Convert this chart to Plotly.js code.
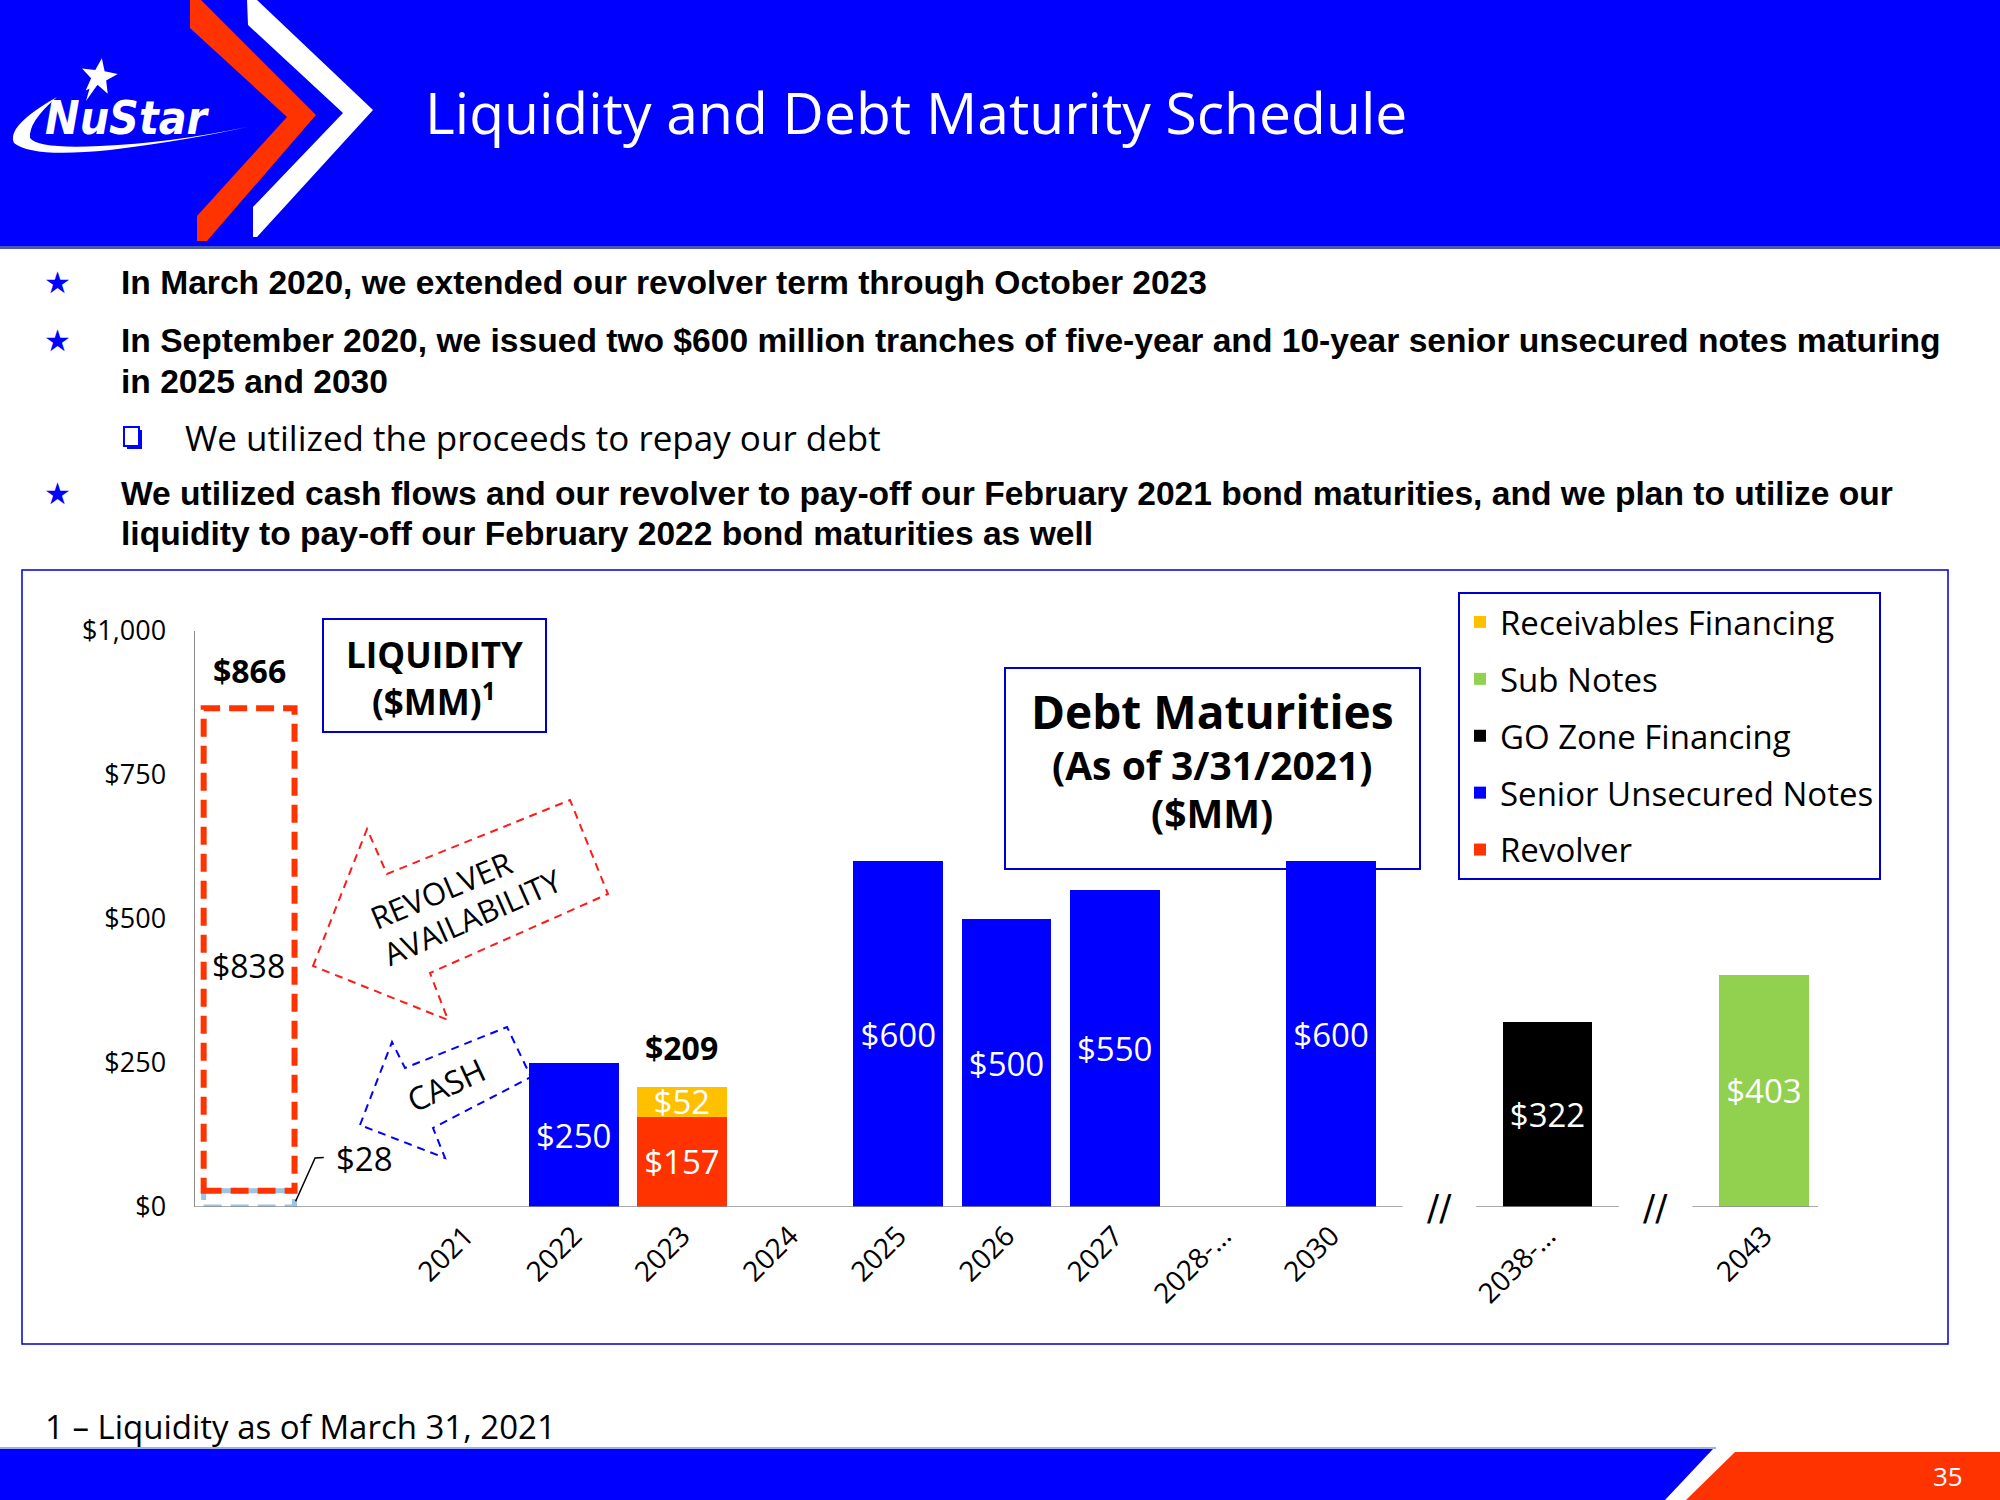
<!DOCTYPE html>
<html>
<head>
<meta charset="utf-8">
<script src="https://cdn.plot.ly/plotly-3.0.1.min.js"></script>
<style>
  html, body { margin: 0; padding: 0; background: #ffffff; }
  #chart { width: 2000px; height: 1500px; }
</style>
</head>
<body>
<div id="chart"></div>
<script>
// ---------------- DATA ----------------
const categories = ['', '', '2021', '2022', '2023', '2024', '2025', '2026', '2027', '2028-…', '2030', '', '2038-…', '', '2043'];
const revolver    = [null, null, null, null, 157, null, null, null, null, null, null, null, null, null, null];
const seniorNotes = [null, null, null, 250, null, null, 600, 500, 550, null, 600, null, null, null, null];
const goZone      = [null, null, null, null, null, null, null, null, null, null, null, null, 322, null, null];
const subNotes    = [null, null, null, null, null, null, null, null, null, null, null, null, null, null, 403];
const receivables = [null, null, null, null, 52, null, null, null, null, null, null, null, null, null, null];
const liquidityCash = 28;
const liquidityRevolver = 838;
const liquidityIndex = 0;
const breakIndexes = [11, 13];
const yTicks = [0, 250, 500, 750, 1000];

const seriesNames = ['Revolver', 'Senior Unsecured Notes', 'GO Zone Financing', 'Sub Notes', 'Receivables Financing'];
const seriesValues = [revolver, seniorNotes, goZone, subNotes, receivables];
const seriesColors = ['#FF3300', '#0000FF', '#000000', '#92D050', '#FFC000'];
const legendRanks = [5, 4, 3, 2, 1];

// ---------------- LAYOUT HELPERS ----------------
const L = 195, R = 1818, T = 631, B = 1207;
const px = x => (x - L) / (R - L);
const py = y => (B - y) / (B - T);
const conv = s => s.replace(/(-?\d+\.?\d*),(-?\d+\.?\d*)/g, (m, a, b) => px(+a).toFixed(5) + ',' + py(+b).toFixed(5));
const poly = pts => 'M' + pts.map(p => px(p[0]).toFixed(5) + ',' + py(p[1]).toFixed(5)).join('L') + 'Z';

const F = '"Open Sans", "DejaVu Sans", sans-serif';
const FB = '"Liberation Sans", Arial, sans-serif';
const BLUE = '#0000FF';
const FRAME = '#0000CC';

const xIdx = categories.map((c, i) => i);

// ---------------- TRACES ----------------
const traces = seriesNames.map((name, k) => {
  const xs = [], ys = [], ts = [];
  seriesValues[k].forEach((v, i) => { if (v != null) { xs.push(xIdx[i]); ys.push(v); ts.push('$' + v); } });
  return {
    type: 'bar',
    name: name,
    legendgroup: name,
    legendrank: legendRanks[k],
    x: xs,
    y: ys,
    text: ts,
    textposition: 'inside',
    insidetextanchor: 'middle',
    textangle: 0,
    textfont: { color: '#ffffff', size: 33, family: F },
    cliponaxis: false,
    marker: { color: seriesColors[k], line: { width: 0 } },
    hoverinfo: 'skip'
  };
});

// ---------------- SHAPES ----------------
const shapes = [];
const P = (o) => Object.assign({ xref: 'paper', yref: 'paper' }, o);

// header band
shapes.push(P({ type: 'rect', x0: px(0), x1: px(2000), y0: py(246), y1: py(0), fillcolor: '#0000FF', line: { width: 0 }, layer: 'below' }));
shapes.push(P({ type: 'line', x0: px(0), x1: px(2000), y0: py(247.5), y1: py(247.5), line: { color: '#4A5AAE', width: 3 }, layer: 'below' }));
// chevrons
shapes.push(P({ type: 'path', path: poly([[190,0],[201,0],[316,115],[207,241],[197,241],[197,216],[287,117],[190,28]]), fillcolor: '#FF3300', line: { width: 0 }, layer: 'below' }));
shapes.push(P({ type: 'path', path: poly([[247,0],[257,0],[373,110],[257,237],[253,237],[253,207],[343,113],[248,25]]), fillcolor: '#FFFFFF', line: { width: 0 }, layer: 'below' }));
// logo swoosh
shapes.push(P({ type: 'path', path: conv('M57,97 Q6,126 14,143 Q32,158 110,150 Q190,140 247,127 Q170,143 100,146 Q38,149 30,138 Q28,122 57,97 Z'), fillcolor: '#FFFFFF', line: { width: 0 }, layer: 'below' }));
// logo star
(function () {
  const cx = 99, cy = 77, ro = 19, ri = 8;
  const pts = [];
  for (let i = 0; i < 10; i++) {
    const a = -Math.PI / 2 + i * Math.PI / 5 + 0.15;
    const r = i % 2 === 0 ? ro : ri;
    pts.push([cx + r * Math.cos(a), cy + r * Math.sin(a)]);
  }
  shapes.push(P({ type: 'path', path: poly(pts), fillcolor: '#FFFFFF', line: { width: 0 }, layer: 'below' }));
  shapes.push(P({ type: 'path', path: poly([[92,80],[98,84],[86,101]]), fillcolor: '#FFFFFF', line: { width: 0 }, layer: 'below' }));
})();
// sub-bullet hollow square
shapes.push(P({ type: 'rect', x0: px(127), x1: px(142), y0: py(449), y1: py(430), fillcolor: BLUE, line: { width: 0 }, layer: 'below' }));
shapes.push(P({ type: 'rect', x0: px(124), x1: px(139), y0: py(446), y1: py(427), fillcolor: '#FFFFFF', line: { color: BLUE, width: 2 }, layer: 'below' }));
// chart frame
shapes.push(P({ type: 'rect', x0: px(22), x1: px(1948), y0: py(1344), y1: py(570), fillcolor: 'rgba(0,0,0,0)', line: { color: FRAME, width: 1.5 }, layer: 'below' }));
// LIQUIDITY box
shapes.push(P({ type: 'rect', x0: px(323), x1: px(546), y0: py(732), y1: py(619), fillcolor: '#FFFFFF', line: { color: FRAME, width: 2 }, layer: 'below' }));
// Debt maturities box
shapes.push(P({ type: 'rect', x0: px(1005), x1: px(1420), y0: py(869), y1: py(668), fillcolor: '#FFFFFF', line: { color: FRAME, width: 2 }, layer: 'below' }));
// revolver availability arrow
shapes.push(P({ type: 'path', path: poly([[313,966],[367,829],[387,874],[570,800],[608,894],[430,973],[448,1020]]), fillcolor: 'rgba(0,0,0,0)', line: { color: '#FF1A1A', width: 2, dash: '8px,6px' }, layer: 'below' }));
// cash arrow
shapes.push(P({ type: 'path', path: poly([[360,1125],[392,1042],[405,1068],[507,1027],[531,1077],[433,1128],[445,1158]]), fillcolor: 'rgba(0,0,0,0)', line: { color: BLUE, width: 2, dash: '8px,6px' }, layer: 'below' }));
// footer
shapes.push(P({ type: 'line', x0: px(0), x1: px(1716), y0: py(1448), y1: py(1448), line: { color: '#9FB0E8', width: 2 }, layer: 'below' }));
shapes.push(P({ type: 'path', path: poly([[0,1449],[1713,1449],[1665,1500],[0,1500]]), fillcolor: '#0000FF', line: { width: 0 }, layer: 'below' }));
shapes.push(P({ type: 'path', path: poly([[1735,1452],[2000,1452],[2000,1500],[1686,1500]]), fillcolor: '#FF3300', line: { width: 0 }, layer: 'below' }));

// liquidity dashed bars (data coordinates)
const lqTotal = liquidityCash + liquidityRevolver;
shapes.push({ type: 'rect', xref: 'x', yref: 'y', x0: liquidityIndex - 0.42, x1: liquidityIndex + 0.42, y0: 0, y1: liquidityCash,
  line: { color: '#9DC3E6', width: 5, dash: '18px,9px' }, fillcolor: 'rgba(0,0,0,0)', layer: 'above' });
shapes.push({ type: 'rect', xref: 'x', yref: 'y', x0: liquidityIndex - 0.42, x1: liquidityIndex + 0.42, y0: liquidityCash, y1: lqTotal,
  line: { color: '#FF3300', width: 6, dash: '18px,9px' }, fillcolor: 'rgba(0,0,0,0)', layer: 'above' });
// leader line for cash label
shapes.push({ type: 'path', xref: 'x', yref: 'y', path: 'M 0.43,10 L 0.61,85 L 0.69,86', line: { color: '#000000', width: 1.5 } });
// baseline with breaks
const segs = [];
let start = -0.5;
breakIndexes.forEach(b => { segs.push([start, b - 0.34]); start = b + 0.34; });
segs.push([start, categories.length - 0.5]);
segs.forEach(s => shapes.push({ type: 'line', xref: 'x', yref: 'y', x0: s[0], x1: s[1], y0: 0, y1: 0, line: { color: '#8C8C8C', width: 1.5 }, layer: 'above' }));

// ---------------- ANNOTATIONS ----------------
const ann = [];
const A = (o) => Object.assign({ xref: 'paper', yref: 'paper', showarrow: false }, o);

ann.push(A({ x: px(423), y: py(112), xanchor: 'left', yanchor: 'middle', text: 'Liquidity and Debt Maturity Schedule', font: { size: 57, color: '#FFFFFF', family: F } }));
ann.push(A({ x: px(127), y: py(118), xanchor: 'center', yanchor: 'middle', text: '<b><i>NuStar</i></b>', font: { size: 46, color: '#FFFFFF', family: '"Liberation Sans Narrow", "DejaVu Sans Condensed", "Liberation Sans", sans-serif' } }));

const bullets = [
  { y: 283, t: 'In March 2020, we extended our revolver term through October 2023', star: true },
  { y: 341, t: 'In September 2020, we issued two $600 million tranches of five-year and 10-year senior unsecured notes maturing', star: true },
  { y: 381, t: 'in 2025 and 2030', star: false },
  { y: 494, t: 'We utilized cash flows and our revolver to pay-off our February 2021 bond maturities, and we plan to utilize our', star: true },
  { y: 533, t: 'liquidity to pay-off our February 2022 bond maturities as well', star: false }
];
bullets.forEach(b => {
  ann.push(A({ x: px(119), y: py(b.y), xanchor: 'left', yanchor: 'middle', text: '<b>' + b.t + '</b>', font: { size: 33.6, color: '#000000', family: FB } }));
  if (b.star) ann.push(A({ x: px(57), y: py(b.y), xanchor: 'center', yanchor: 'middle', text: '★', font: { size: 30, color: BLUE, family: '"DejaVu Sans", sans-serif' } }));
});
ann.push(A({ x: px(183), y: py(437), xanchor: 'left', yanchor: 'middle', text: 'We utilized the proceeds to repay our debt', font: { size: 35, color: '#000000', family: F } }));

// boxes text
ann.push(A({ x: px(434), y: py(654), xanchor: 'center', yanchor: 'middle', text: '<b>LIQUIDITY</b>', font: { size: 35, color: '#000000', family: F } }));
ann.push(A({ x: px(434), y: py(699), xanchor: 'center', yanchor: 'middle', text: '<b>($MM)<sup>1</sup></b>', font: { size: 35, color: '#000000', family: F } }));
ann.push(A({ x: px(1212), y: py(711), xanchor: 'center', yanchor: 'middle', text: '<b>Debt Maturities</b>', font: { size: 46, color: '#000000', family: F } }));
ann.push(A({ x: px(1212), y: py(764), xanchor: 'center', yanchor: 'middle', text: '<b>(As of 3/31/2021)</b>', font: { size: 39, color: '#000000', family: F } }));
ann.push(A({ x: px(1212), y: py(812), xanchor: 'center', yanchor: 'middle', text: '<b>($MM)</b>', font: { size: 39, color: '#000000', family: F } }));

// arrow texts
ann.push(A({ x: px(441), y: py(890), xanchor: 'center', yanchor: 'middle', text: 'REVOLVER', textangle: -23, font: { size: 31, color: '#000000', family: F } }));
ann.push(A({ x: px(472), y: py(917), xanchor: 'center', yanchor: 'middle', text: 'AVAILABILITY', textangle: -24, font: { size: 31, color: '#000000', family: F } }));
ann.push(A({ x: px(446), y: py(1084), xanchor: 'center', yanchor: 'middle', text: 'CASH', textangle: -25, font: { size: 32, color: '#000000', family: F } }));

// liquidity labels (data coords)
ann.push({ xref: 'x', yref: 'y', x: liquidityIndex, y: lqTotal, yshift: 14, yanchor: 'bottom', showarrow: false,
  text: '<b>$' + lqTotal + '</b>', font: { size: 32, color: '#000000', family: F } });
ann.push({ xref: 'x', yref: 'y', x: liquidityIndex - 0.36, y: liquidityRevolver / 2, xanchor: 'left', yanchor: 'middle', showarrow: false,
  text: '$' + liquidityRevolver, font: { size: 32, color: '#000000', family: F } });
ann.push({ xref: 'x', yref: 'y', x: 0.78, y: 84, xanchor: 'left', yanchor: 'middle', showarrow: false,
  text: '$' + liquidityCash, font: { size: 33, color: '#000000', family: F } });
// total of 2023 stack
const idx2023 = categories.indexOf('2023');
const total2023 = revolver[idx2023] + receivables[idx2023];
ann.push({ xref: 'x', yref: 'y', x: idx2023, y: total2023, yshift: 16, yanchor: 'bottom', showarrow: false,
  text: '<b>$' + total2023 + '</b>', font: { size: 32, color: '#000000', family: F } });
// axis breaks
breakIndexes.forEach(b => ann.push({ xref: 'x', yref: 'y', x: b, y: 0, yanchor: 'middle', xanchor: 'center', showarrow: false,
  text: '//', font: { size: 36, color: '#000000', family: '"DejaVu Sans", sans-serif' } }));

// footnote & page number
ann.push(A({ x: px(43), y: py(1426), xanchor: 'left', yanchor: 'middle', text: '1 – Liquidity as of March 31, 2021', font: { size: 33, color: '#000000', family: F } }));
ann.push(A({ x: px(1948), y: py(1476), xanchor: 'center', yanchor: 'middle', text: '35', font: { size: 26, color: '#FFFFFF', family: F } }));

// ---------------- LAYOUT ----------------
const tickIdx = xIdx.filter(i => categories[i] !== '');
const layout = {
  width: 2000, height: 1500,
  margin: { l: L, r: 2000 - R, t: T, b: 1500 - B, pad: 0 },
  paper_bgcolor: '#FFFFFF',
  plot_bgcolor: 'rgba(0,0,0,0)',
  barmode: 'stack',
  bargap: 0.17,
  showlegend: true,
  legend: {
    x: px(1458), y: py(592), xanchor: 'left', yanchor: 'top',
    bordercolor: FRAME, borderwidth: 2, bgcolor: '#FFFFFF',
    font: { size: 33, color: '#000000', family: F },
    traceorder: 'grouped', tracegroupgap: 11, itemwidth: 30
  },
  uniformtext: { mode: 'show', minsize: 33 },
  xaxis: {
    type: 'linear', range: [-0.5, categories.length - 0.5],
    tickmode: 'array', tickvals: tickIdx, ticktext: tickIdx.map(i => categories[i]),
    tickangle: -45, tickfont: { size: 28, color: '#000000', family: F },
    showgrid: false, zeroline: false, showline: false, ticks: '', ticklabelstandoff: 6,
    fixedrange: true
  },
  yaxis: {
    range: [0, 1000], tickmode: 'array', tickvals: yTicks, ticktext: yTicks.map(v => '$' + v.toLocaleString('en-US')),
    tickfont: { size: 27, color: '#000000', family: F },
    showgrid: false, zeroline: false, showline: true, linecolor: '#8C8C8C', linewidth: 1.5,
    ticks: '', ticklabelstandoff: 22, fixedrange: true
  },
  shapes: shapes,
  annotations: ann
};

Plotly.newPlot('chart', traces, layout, { displayModeBar: false, staticPlot: true });
</script>
</body>
</html>
